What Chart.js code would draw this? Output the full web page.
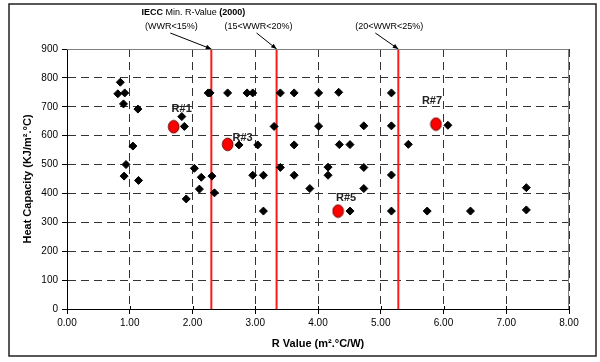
<!DOCTYPE html>
<html>
<head>
<meta charset="utf-8">
<script src="https://cdn.jsdelivr.net/npm/chart.js@4.4.0/dist/chart.umd.min.js"></script>
<style>
  html, body { margin: 0; padding: 0; background: #fff; }
  #wrap { position: relative; width: 600px; height: 362px; }
</style>
</head>
<body>
<div id="wrap"><canvas id="chart"></canvas></div>
<script>
// building cases (R value vs heat capacity)
const rValues = [
    0.85, 0.81, 0.92, 0.90, 1.13, 1.83, 1.87, 2.25, 2.28, 2.56,
    1.05, 0.94, 0.91, 1.14, 2.03, 2.14, 2.31, 2.11, 2.35, 1.90,
    2.87, 2.96, 3.40, 3.62, 4.01, 4.33, 3.30, 4.01, 2.74, 3.04,
    3.62, 4.34, 4.51, 3.40, 4.16, 2.96, 3.13, 3.62, 4.16, 3.87,
    3.13, 4.51, 5.17, 4.73, 5.17, 6.07, 5.44, 4.73, 5.17, 4.73,
    5.17, 5.74, 6.43, 7.32, 7.32
];
const heatCaps = [
    785, 745, 748, 710, 692, 666, 632, 748, 748, 748,
    564, 500, 460, 445, 487, 456, 460, 415, 402, 381,
    748, 748, 748, 748, 748, 750, 632, 633, 568, 568,
    568, 569, 569, 490, 491, 463, 463, 463, 463, 417,
    339, 339, 748, 634, 634, 636, 570, 490, 464, 417,
    339, 339, 339, 420, 343
];

// highlighted cases
const caseLabels = ["R#1", "R#3", "R#5", "R#7"];
const caseR = [1.70, 2.56, 4.32, 5.88];
const caseHC = [631, 570, 339, 640];

// IECC minimum R values
const ieccR = [2.30, 3.34, 5.28];
const ieccLabels = ["(WWR<15%)", "(15<WWR<20%)", "(20<WWR<25%)"];

const xMin = 0, xMax = 8, xStep = 1;
const yMin = 0, yMax = 900, yStep = 100;

const FONT = "'Liberation Sans', Arial, sans-serif";

const points = rValues.map((r, i) => ({ x: r, y: heatCaps[i] }));
const cases = caseR.map((r, i) => ({ x: r, y: caseHC[i] }));
const ieccSets = ieccR.map((r) => ({
    type: "line",
    data: [{ x: r, y: yMin }, { x: r, y: yMax }],
    borderColor: "#ff1a1a",
    borderWidth: 2,
    pointRadius: 0,
    showLine: true,
    order: 3,
}));

// slightly tall red marker, like the excel one
const redDot = document.createElement("canvas");
redDot.width = 13;
redDot.height = 15;
(() => {
    const c = redDot.getContext("2d");
    c.beginPath();
    c.ellipse(6.5, 7.5, 5.3, 6.3, 0, 0, Math.PI * 2);
    c.fillStyle = "#ff0000";
    c.fill();
    c.lineWidth = 1;
    c.strokeStyle = "#6e0000";
    c.stroke();
})();

// label offsets around the red dots (px)
const caseOffsets = [[8, -18], [15, -6], [8, -13], [-4, -23]];
// label / arrow offsets from the red lines (px)
const arrowStartDx = [-41, -20, -23];
const textDx = [-40, -18, -9];

const extras = {
    id: "extras",
    afterDraw(chart) {
        const { ctx, chartArea: a, scales } = chart;
        const xs = scales.x, ys = scales.y;
        ctx.save();

        // plot frame (top / right)
        ctx.strokeStyle = "#808080";
        ctx.lineWidth = 1;
        ctx.beginPath();
        ctx.moveTo(a.left, a.top + 0.5);
        ctx.lineTo(a.right - 0.5, a.top + 0.5);
        ctx.lineTo(a.right - 0.5, a.bottom);
        ctx.stroke();

        // x ticks also poke up into the plot a little
        ctx.strokeStyle = "#000";
        xs.ticks.forEach((t) => {
            const px = Math.round(xs.getPixelForValue(t.value)) + 0.5;
            ctx.beginPath();
            ctx.moveTo(px, a.bottom - 3);
            ctx.lineTo(px, a.bottom);
            ctx.stroke();
        });

        // case labels
        ctx.fillStyle = "#222";
        ctx.font = "bold 11px " + FONT;
        ctx.textAlign = "center";
        ctx.textBaseline = "middle";
        caseLabels.forEach((t, i) => {
            const px = xs.getPixelForValue(caseR[i]);
            const py = ys.getPixelForValue(caseHC[i]);
            ctx.fillText(t, px + caseOffsets[i][0], py + caseOffsets[i][1]);
        });

        // IECC annotations
        ctx.fillStyle = "#000";
        ctx.strokeStyle = "#000";
        ctx.font = "9px " + FONT;
        ieccR.forEach((r, i) => {
            const lx = xs.getPixelForValue(r);
            ctx.textAlign = "center";
            ctx.fillText(ieccLabels[i], lx + textDx[i], 27);
            const sx = lx + arrowStartDx[i], sy = 33;
            const ex = lx, ey = a.top;
            ctx.lineWidth = 1;
            ctx.beginPath();
            ctx.moveTo(sx, sy);
            ctx.lineTo(ex, ey);
            ctx.stroke();
            const ang = Math.atan2(ey - sy, ex - sx);
            ctx.beginPath();
            ctx.moveTo(ex, ey);
            ctx.lineTo(ex - 6 * Math.cos(ang - 0.4), ey - 6 * Math.sin(ang - 0.4));
            ctx.lineTo(ex - 6 * Math.cos(ang + 0.4), ey - 6 * Math.sin(ang + 0.4));
            ctx.closePath();
            ctx.fill();
        });

        // title over the first arrow, mixed weight
        const parts = [["IECC", "bold"], [" Min. R-Value ", "normal"], ["(2000)", "bold"]];
        let total = 0;
        parts.forEach((p) => {
            ctx.font = p[1] + " 9px " + FONT;
            total += ctx.measureText(p[0]).width;
        });
        let tx = xs.getPixelForValue(ieccR[0]) - 18 - total / 2;
        ctx.textAlign = "left";
        parts.forEach((p) => {
            ctx.font = p[1] + " 9px " + FONT;
            ctx.fillText(p[0], tx, 13);
            tx += ctx.measureText(p[0]).width;
        });

        // outer frame
        ctx.strokeStyle = "#222";
        ctx.lineWidth = 1.5;
        ctx.strokeRect(9, 4, 587, 352);
        ctx.restore();
    },
};

new Chart(document.getElementById("chart"), {
    type: "scatter",
    data: {
        datasets: [
            {
                data: cases,
                pointStyle: redDot,
                pointRadius: 6,
                order: 1,
            },
            {
                data: points,
                backgroundColor: "#000",
                borderColor: "#000",
                borderWidth: 1,
                pointRadius: 4,
                pointStyle: "rectRot",
                order: 2,
            },
            ...ieccSets,
        ],
    },
    options: {
        responsive: true,
        maintainAspectRatio: false,
        animation: false,
        layout: { padding: { top: 49, right: 31, bottom: 0, left: 0 } },
        plugins: {
            legend: { display: false },
            tooltip: { enabled: false },
        },
        scales: {
            x: {
                type: "linear",
                min: xMin,
                max: xMax,
                afterFit: (s) => { s.height = 53; },
                ticks: {
                    stepSize: xStep,
                    color: "#000",
                    font: { family: FONT, size: 10 },
                    padding: 3,
                    maxRotation: 0,
                    callback: (v) => Number(v).toFixed(2),
                },
                grid: {
                    color: "#333",
                    lineWidth: 1,
                    tickLength: 5,
                    tickColor: "#000",
                },
                border: { display: true, color: "#000", width: 1, dash: [8, 5] },
                title: {
                    display: true,
                    text: "R Value (m\u00b2.\u00b0C/W)",
                    color: "#000",
                    font: { family: FONT, size: 11, weight: "bold" },
                    padding: { top: 0, bottom: 11 },
                },
            },
            y: {
                type: "linear",
                min: yMin,
                max: yMax,
                afterFit: (s) => { s.width = 67; },
                ticks: {
                    stepSize: yStep,
                    color: "#000",
                    font: { family: FONT, size: 10 },
                    padding: 4,
                },
                grid: {
                    color: "#333",
                    lineWidth: 1,
                    tickLength: 5,
                    tickColor: "#000",
                },
                border: { display: true, color: "#000", width: 1, dash: [8, 5] },
                title: {
                    display: true,
                    text: "Heat Capacity (KJ/m\u00b2.\u00b0C)",
                    color: "#000",
                    font: { family: FONT, size: 11, weight: "bold" },
                    padding: { top: 21, bottom: 0 },
                },
            },
        },
    },
    plugins: [extras],
});
</script>
</body>
</html>
